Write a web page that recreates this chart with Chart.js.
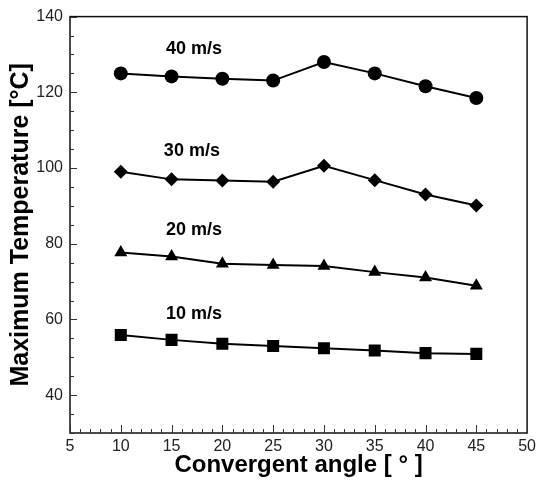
<!DOCTYPE html>
<html>
<head>
<meta charset="utf-8">
<script src="https://cdn.jsdelivr.net/npm/chart.js@4/dist/chart.umd.min.js"></script>
<style>
  html, body { margin: 0; padding: 0; background: #fff; }
  #wrap { width: 540px; height: 482px; }
</style>
</head>
<body>
<div id="wrap"><canvas id="tempChart"></canvas></div>
<script>
// convergent angle in degrees
const angles = [10, 15, 20, 25, 30, 35, 40, 45];

// maximum temperature (°C) per inlet velocity
const temp10 = [55.9, 54.6, 53.6, 53.0, 52.4, 51.8, 51.1, 50.9];
const temp20 = [77.7, 76.6, 74.7, 74.4, 74.1, 72.5, 71.1, 68.9];
const temp30 = [99.0, 97.0, 96.7, 96.4, 100.6, 96.8, 93.0, 90.1];
const temp40 = [125.0, 124.2, 123.6, 123.1, 128.0, 125.0, 121.6, 118.5];

const xTicks = [5, 10, 15, 20, 25, 30, 35, 40, 45, 50];
const yTicks = [40, 60, 80, 100, 120, 140];

// text labels next to each curve: [text, x, y] in data units
const curveLabels = [
    ['40 m/s', 17.2, 131.5],
    ['30 m/s', 17.0, 104.5],
    ['20 m/s', 17.2, 83.5],
    ['10 m/s', 17.2, 61.3],
];

function toPoints(values) {
    return angles.map((a, i) => ({ x: a, y: values[i] }));
}

function series(label, values, style, radius) {
    return {
        label: label,
        data: toPoints(values),
        borderColor: '#000',
        backgroundColor: '#000',
        borderWidth: 2,
        pointStyle: style,
        pointRadius: radius,
        pointHoverRadius: radius,
        pointBorderWidth: 0,
        tension: 0,
    };
}

// frame, inward ticks (major + minor) and curve labels
const decorations = {
    id: 'decorations',
    afterDraw(chart) {
        const ctx = chart.ctx;
        const area = chart.chartArea;
        const xs = chart.scales.x;
        const ys = chart.scales.y;
        ctx.save();
        ctx.strokeStyle = '#111';
        ctx.lineWidth = 1.5;
        ctx.strokeRect(area.left, area.top, area.right - area.left, area.bottom - area.top);

        ctx.lineWidth = 1;
        ctx.strokeStyle = '#333';
        for (let v = 5; v <= 50; v += 1) {
            const px = Math.round(xs.getPixelForValue(v)) + 0.5;
            const len = v % 5 === 0 ? 8 : 4;
            ctx.beginPath();
            ctx.moveTo(px, area.bottom);
            ctx.lineTo(px, area.bottom - len);
            ctx.stroke();
        }
        for (let v = 30; v <= 140; v += 5) {
            const py = Math.round(ys.getPixelForValue(v)) + 0.5;
            const len = v % 20 === 0 ? 7 : 4;
            ctx.beginPath();
            ctx.moveTo(area.left, py);
            ctx.lineTo(area.left + len, py);
            ctx.stroke();
        }

        ctx.fillStyle = '#000';
        ctx.font = 'bold 18px "Liberation Sans", Arial, sans-serif';
        ctx.textAlign = 'center';
        ctx.textBaseline = 'middle';
        curveLabels.forEach(([t, x, y]) => {
            ctx.fillText(t, xs.getPixelForValue(x), ys.getPixelForValue(y));
        });
        ctx.restore();
    }
};

const canvas = document.getElementById('tempChart');

new Chart(canvas, {
    type: 'line',

    data: {
        datasets: [
            series('40 m/s', temp40, 'circle', 7),
            series('30 m/s', temp30, 'rectRot', 7),
            series('20 m/s', temp20, 'triangle', 7.5),
            series('10 m/s', temp10, 'rect', 8.5),
        ]
    },

    options: {
        responsive: true,
        maintainAspectRatio: false,
        animation: false,
        layout: { padding: { left: 6, right: 7, top: 13, bottom: 2 } },
        plugins: {
            legend: { display: false },
            tooltip: { enabled: false },
        },
        scales: {
            x: {
                type: 'linear',
                min: 5,
                max: 50,
                afterBuildTicks(scale) {
                    scale.ticks = xTicks.map(v => ({ value: v }));
                },
                afterFit(scale) { scale.height = 47; },
                grid: { display: false, drawTicks: false },
                border: { display: false },
                ticks: {
                    color: '#222',
                    padding: 4,
                    maxRotation: 0,
                    font: { family: '"Liberation Sans", Arial, sans-serif', size: 16 },
                },
                title: {
                    display: true,
                    text: 'Convergent angle [ ° ]',
                    color: '#000',
                    padding: { top: 0, bottom: 0 },
                    font: { family: '"Liberation Sans", Arial, sans-serif', size: 24, weight: 'bold' },
                },
            },
            y: {
                type: 'linear',
                min: 30,
                max: 140,
                afterBuildTicks(scale) {
                    scale.ticks = yTicks.map(v => ({ value: v }));
                },
                afterFit(scale) { scale.width = 64; },
                grid: { display: false, drawTicks: false },
                border: { display: false },
                ticks: {
                    color: '#222',
                    padding: 7,
                    font: { family: '"Liberation Sans", Arial, sans-serif', size: 16 },
                },
                title: {
                    display: true,
                    text: 'Maximum Temperature [°C]',
                    color: '#000',
                    padding: { top: 0, bottom: 2 },
                    font: { family: '"Liberation Sans", Arial, sans-serif', size: 25, weight: 'bold' },
                },
            },
        },
    },

    plugins: [decorations],
});
</script>
</body>
</html>
